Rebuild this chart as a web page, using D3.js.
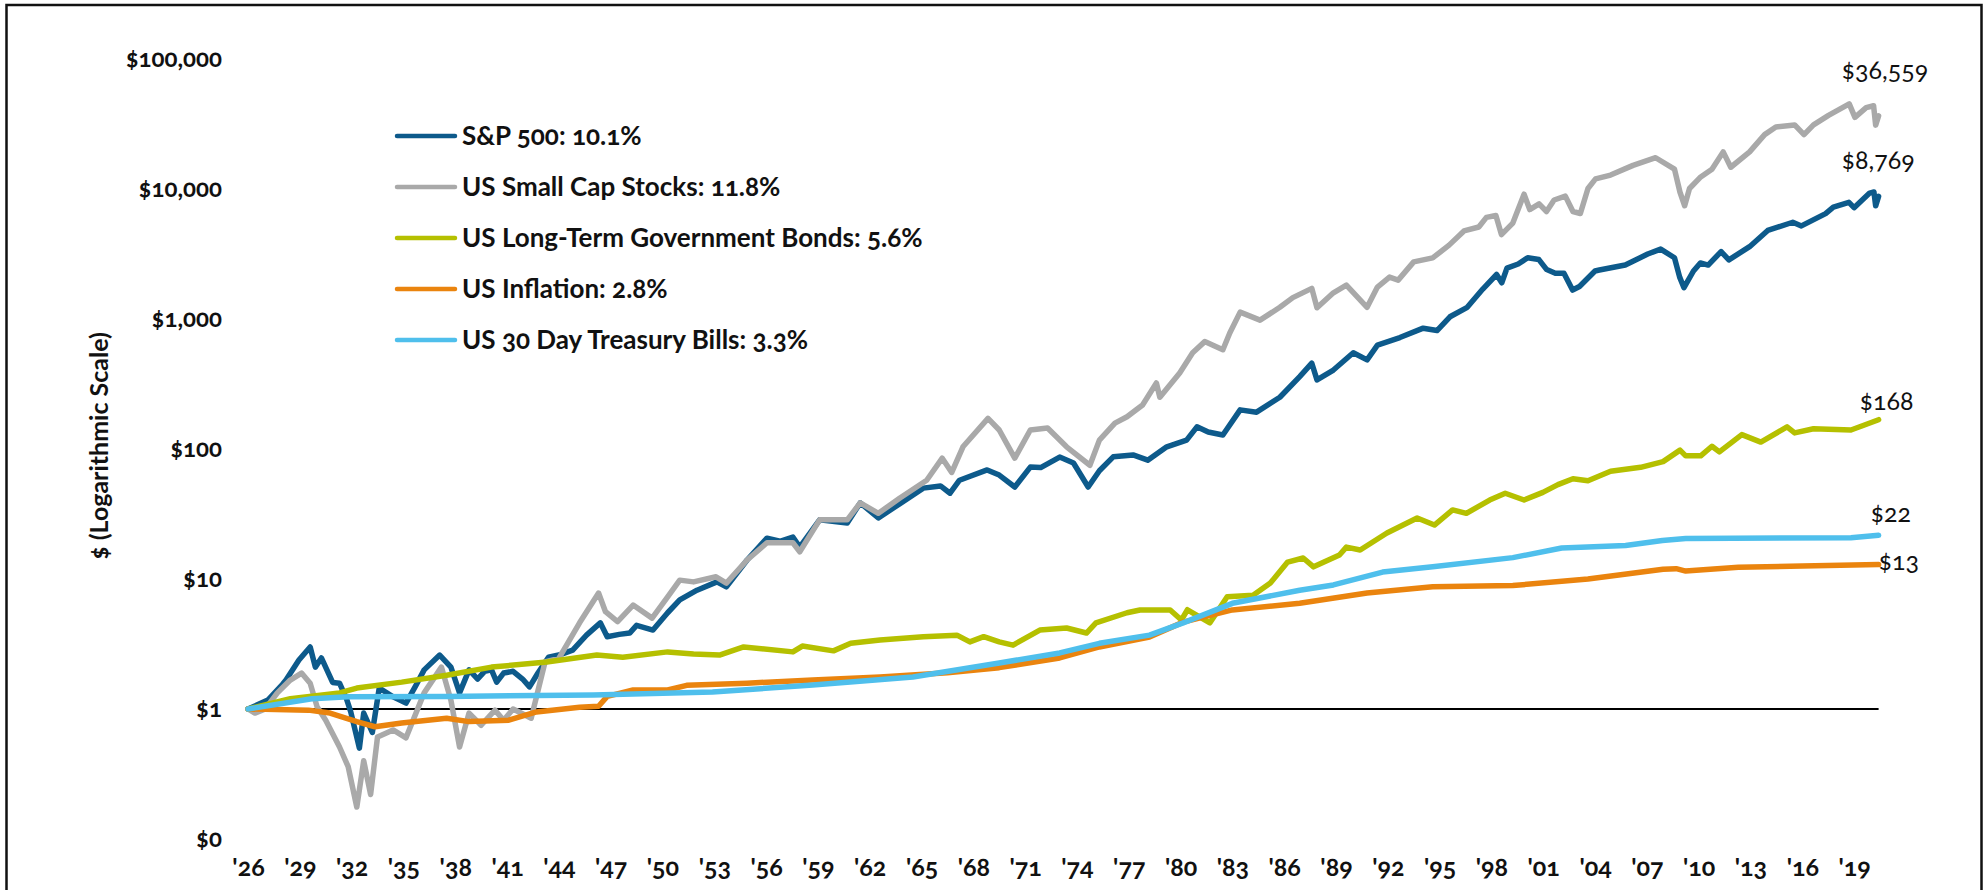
<!DOCTYPE html>
<html>
<head>
<meta charset="utf-8">
<script src="https://cdn.jsdelivr.net/npm/d3@7"></script>
<style>
body { margin: 0; background: #fff; }
text { font-family: Lato, "Open Sans", sans-serif; fill: #111; font-variant-numeric: oldstyle-nums; }
</style>
</head>
<body>
<svg width="1986" height="890"></svg>
<script>
// growth of $1, [year, value]
var sp500 = [[1926,1],[1927.15,1.17],[1928,1.55],[1928.2,1.67],[1928.95,2.38],[1929.6,3.0],[1929.9,2.1],[1930.25,2.47],
  [1930.9,1.6],[1931.3,1.58],[1931.7,1.2],[1931.95,0.95],[1932.45,0.5],[1932.7,0.93],[1933.2,0.66],[1933.6,1.45],
  [1934.4,1.24],[1935.15,1.11],[1935.7,1.5],[1936.2,2.0],[1937.1,2.6],[1937.75,2.1],[1938.25,1.33],[1938.8,2.0],
  [1939.3,1.7],[1939.7,1.95],[1940.1,2.0],[1940.4,1.61],[1940.8,1.89],[1941.35,1.95],[1941.9,1.7],[1942.3,1.48],
  [1942.8,1.9],[1943.4,2.5],[1944,2.6],[1944.8,2.84],[1945.6,3.7],[1946.4,4.6],[1946.8,3.6],[1947.5,3.75],[1948.1,3.84],
  [1948.5,4.4],[1949.45,4.05],[1950.3,5.5],[1951,6.9],[1952,8.2],[1953.15,9.5],[1953.7,8.7],[1954.9,14],[1956.05,20.6],
  [1956.8,19.5],[1957.55,21],[1957.95,17.6],[1959.1,28.5],[1960.7,27],[1961.45,38.5],[1962.5,29.5],[1963.75,38],
  [1965.1,50],[1966.1,52],[1966.65,45.7],[1967.2,57.5],[1968.8,69],[1969.5,63],[1970.4,51],[1971.3,72.6],[1971.9,72],
  [1973,86.7],[1973.8,78],[1974.65,51],[1975.3,68],[1976.1,87],[1977.25,90],[1978.1,82],[1979.2,104],[1980.35,117],
  [1980.95,148],[1981.6,135],[1982.45,128],[1983.45,200],[1984.4,192],[1985.75,250],[1986.9,360],[1987.6,457],
  [1987.9,340],[1988.85,405],[1990,550],[1990.8,485],[1991.4,630],[1992.7,720],[1994.05,850],[1994.85,815],
  [1995.6,1040],[1996.6,1230],[1997.5,1700],[1998.3,2200],[1998.6,1900],[1998.9,2460],[1999.55,2650],[2000.1,2960],
  [2000.75,2865],[2001.2,2400],[2001.7,2250],[2002.2,2250],[2002.7,1670],[2003.1,1780],[2004,2340],[2004.25,2380],
  [2005.75,2600],[2007.05,3160],[2007.8,3450],[2008.6,2960],[2008.9,2100],[2009.15,1740],[2009.7,2340],[2010.1,2700],
  [2010.55,2600],[2011.3,3300],[2011.75,2850],[2012.95,3600],[2014,4800],[2015.45,5550],[2015.95,5200],[2017.35,6460],
  [2017.8,7250],[2018.7,7900],[2019,7180],[2019.9,9300],[2020.15,9480],[2020.25,7420],[2020.42,8769]];

var smallCap = [[1926,1],[1926.4,0.93],[1927,1.0],[1927.7,1.33],[1928.45,1.67],[1929.1,1.89],[1929.6,1.58],[1930,1.04],
  [1930.5,0.82],[1931.3,0.51],[1931.8,0.36],[1932.3,0.176],[1932.7,0.4],[1933.1,0.22],[1933.5,0.61],[1934.4,0.69],
  [1935.15,0.6],[1936.2,1.33],[1937.2,2.1],[1937.75,1.17],[1938.25,0.51],[1938.8,0.93],[1939.5,0.75],[1940.3,0.98],
  [1940.8,0.82],[1941.35,1.0],[1942.4,0.85],[1943.2,2.3],[1944,2.45],[1945.2,4.6],[1946.3,7.8],[1946.7,5.6],[1947.4,4.7],
  [1948.3,6.3],[1949.4,5.0],[1950.3,7.3],[1951,9.8],[1951.8,9.5],[1953.1,10.4],[1953.7,9.3],[1954.9,14],[1956.05,19],
  [1957.55,19],[1957.95,16.2],[1959.1,28.5],[1960.7,28.5],[1961.45,38.5],[1962.5,32],[1963.75,42],[1965.3,57.5],
  [1966.2,85],[1966.75,66],[1967.4,104],[1968.85,172],[1969.5,140],[1970.4,85],[1971.3,140],[1972.3,145],[1973.4,104],
  [1974.75,75],[1975.3,117],[1976.2,158],[1976.9,177],[1977.8,218],[1978.6,322],[1978.8,250],[1979.95,385],[1980.7,550],
  [1981.4,670],[1982.45,580],[1982.85,780],[1983.45,1130],[1984.6,980],[1985.75,1230],[1986.5,1460],[1987.6,1720],
  [1987.9,1220],[1988.85,1590],[1989.6,1820],[1990.8,1230],[1991.4,1760],[1992.1,2100],[1992.6,1990],[1993.5,2750],
  [1994.6,2950],[1995.55,3700],[1996.41,4760],[1997.27,5100],[1997.71,6050],[1998.26,6260],[1998.58,4460],
  [1999.24,5470],[1999.89,9120],[2000.22,6950],[2000.76,7690],[2001.19,6710],[2001.63,8230],[2002.28,8810],
  [2002.72,6710],[2003.15,6480],[2003.59,10090],[2004.03,11970],[2004.9,12800],[2006.2,15200],[2007.51,17400],
  [2008.6,14200],[2008.92,9440],[2009.19,7430],[2009.47,10090],[2010.12,12390],[2010.77,14200],[2011.42,19300],
  [2011.86,14700],[2012.95,19300],[2013.82,26200],[2014.47,30000],[2015.56,31100],[2016.1,26200],[2016.65,31100],
  [2017.52,36800],[2018.72,45200],[2019.05,35600],[2019.7,42200],[2020.13,43700],[2020.25,31000],[2020.42,36559]];

var bonds = [[1926,1],[1928.45,1.2],[1931.3,1.33],[1932.3,1.45],[1934.9,1.61],[1937.5,1.82],[1940.1,2.1],[1943.3,2.3],
  [1946.2,2.6],[1947.7,2.5],[1950.3,2.75],[1951.8,2.65],[1953.3,2.6],[1954.7,3.0],[1957.55,2.75],[1958.1,3.05],
  [1959.9,2.8],[1960.9,3.2],[1962.6,3.4],[1965.1,3.6],[1967.05,3.7],[1967.8,3.28],[1968.6,3.6],[1969.5,3.28],
  [1970.3,3.1],[1971.85,4.05],[1973.4,4.2],[1974.55,3.84],[1975.1,4.6],[1976.9,5.5],[1977.65,5.78],[1979.4,5.78],
  [1980.05,4.84],[1980.4,5.8],[1981.7,4.6],[1982.7,7.3],[1984.2,7.5],[1985.2,9.3],[1986.2,13.5],[1987.1,14.5],
  [1987.7,12.4],[1989.2,15.3],[1989.6,17.6],[1990.4,16.7],[1991.95,22.6],[1993.7,29.5],[1994.7,26],[1995.75,34],
  [1996.55,32],[1997.9,40.5],[1998.8,45.7],[1999.89,40.5],[2000.98,46.4],[2001.85,53.2],[2002.72,59],[2003.59,57],
  [2004.9,67.5],[2006.64,72.3],[2007.94,80],[2008.92,98],[2009.25,88.6],[2010.12,88.6],[2010.77,105],[2011.2,95],
  [2012.5,129],[2013.6,113],[2015.12,148],[2015.56,133],[2016.65,143],[2018.82,140],[2020.42,168]];

var inflation = [[1926,1],[1929.5,0.98],[1930.75,0.93],[1932.3,0.8],[1933.35,0.73],[1934.9,0.78],[1937.5,0.85],
  [1938.8,0.8],[1941.1,0.82],[1942.7,0.95],[1945.2,1.03],[1946.3,1.05],[1946.8,1.25],[1948.3,1.4],[1950.3,1.4],
  [1951.4,1.52],[1954.9,1.58],[1958.7,1.67],[1962.6,1.76],[1966.5,1.9],[1969.5,2.08],[1973,2.47],[1975.3,3.0],
  [1978.2,3.58],[1980.15,4.66],[1983,5.78],[1986.9,6.5],[1990.8,7.8],[1994.6,8.7],[1999.24,8.9],[2003.59,10.0],
  [2007.94,11.9],[2008.7,12.0],[2009.25,11.5],[2012.3,12.3],[2016,12.6],[2020.42,12.9]];

var tBills = [[1926,1],[1929.7,1.2],[1931.8,1.24],[1937.5,1.25],[1946,1.28],[1952.9,1.35],[1958.7,1.53],[1964.5,1.76],
  [1969.5,2.26],[1973,2.7],[1975.3,3.2],[1978.2,3.7],[1980.15,4.6],[1983,6.5],[1986.9,8.2],[1988.85,9.0],[1991.7,11.3],
  [1994.6,12.4],[1999.24,14.6],[2002.07,17.3],[2005.77,18.1],[2007.9,19.8],[2009.25,20.5],[2018.82,20.8],[2020.42,21.7]];

var seriesNames = ["S&P 500: 10.1%", "US Small Cap Stocks: 11.8%", "US Long-Term Government Bonds: 5.6%",
  "US Inflation: 2.8%", "US 30 Day Treasury Bills: 3.3%"];
var endLabels = ["$8,769", "$36,559", "$168", "$13", "$22"];
var yTicks = [0.1, 1, 10, 100, 1000, 10000, 100000];
var xTicks = d3.range(1926, 2020, 3);

var colors = ["#0d5a8b", "#a9a9a9", "#b5c000", "#ea840e", "#4fbfec"];
// where each end label sits relative to the last point
var labelOffset = [[-37, -36], [-37, -46], [-19, -18], [0, -3], [-8, -22]];

var allSeries = [sp500, smallCap, bonds, inflation, tBills];

var svg = d3.select("svg")

var x = d3.scaleLinear().domain([1926, 2020.42]).range([248, 1878.6])
var y = d3.scaleLog().domain([0.1, 100000]).range([839, 59])

// frame
svg.append("rect")
  .attr("x", 6.5).attr("y", 5)
  .attr("width", 1975).attr("height", 900)
  .style("fill", "none").style("stroke", "#111").style("stroke-width", 2.5)

// y labels
svg.append("g")
  .attr("transform", "translate(222,0)")
  .call(d3.axisLeft(y).tickValues(yTicks).tickSize(0).tickPadding(0)
    .tickFormat(d => d < 1 ? "$0" : "$" + d3.format(",")(d)))
  .call(g => g.select(".domain").remove())
  .selectAll("text")
  .style("font-family", "Lato, sans-serif")
  .style("font-size", "24px").style("font-weight", "bold").style("fill", "#111")

// x labels
svg.append("g")
  .attr("transform", "translate(0,855)")
  .call(d3.axisBottom(x).tickValues(xTicks).tickSize(0).tickPadding(3)
    .tickFormat(d => "'" + String(d % 100).padStart(2, "0")))
  .call(g => g.select(".domain").remove())
  .selectAll("text")
  .style("font-family", "Lato, sans-serif")
  .style("font-size", "25px").style("font-weight", "bold").style("fill", "#111")

svg.append("text")
  .attr("transform", "translate(99,446) rotate(-90)")
  .attr("text-anchor", "middle")
  .attr("dy", "0.35em")
  .style("font-size", "25px").style("font-weight", "bold")
  .text("$ (Logarithmic Scale)")

// $1 baseline
svg.append("line")
  .attr("x1", x(1926)).attr("x2", x(2020.42))
  .attr("y1", y(1)).attr("y2", y(1))
  .style("stroke", "#000").style("stroke-width", 2)

var line = d3.line().x(d => x(d[0])).y(d => y(d[1]))

allSeries.forEach(function(data, i) {
  svg.append("path")
    .datum(data)
    .attr("d", line)
    .style("fill", "none")
    .style("stroke", colors[i])
    .style("stroke-width", 5.5)
    .style("stroke-linejoin", "round")
    .style("stroke-linecap", "round")

  var last = data[data.length - 1]
  svg.append("text")
    .attr("x", x(last[0]) + labelOffset[i][0])
    .attr("y", y(last[1]) + labelOffset[i][1])
    .attr("dy", "0.35em")
    .style("font-size", "25px")
    .text(endLabels[i])
})

// legend
var legend = svg.append("g").attr("transform", "translate(397,136)")
seriesNames.forEach(function(name, i) {
  legend.append("line")
    .attr("x1", 0).attr("x2", 58)
    .attr("y1", i * 51).attr("y2", i * 51)
    .style("stroke", colors[i]).style("stroke-width", 4.5).style("stroke-linecap", "round")
  legend.append("text")
    .attr("x", 65).attr("y", i * 51)
    .attr("dy", "0.35em")
    .style("font-size", "26px").style("font-weight", "bold")
    .text(name)
})
</script>
</body>
</html>
